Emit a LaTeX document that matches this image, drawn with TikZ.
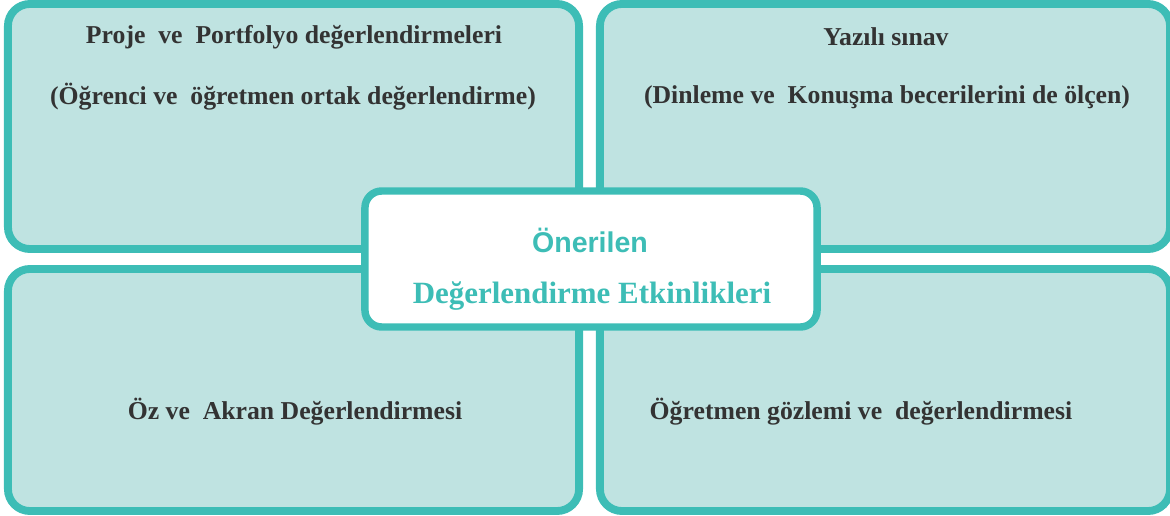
\documentclass[tikz,border=0pt]{standalone}
\usepackage{fontspec}
\setmainfont{Liberation Serif}
\newfontfamily\headsans{Liberation Sans}
\usepackage{tikz}

\definecolor{tealline}{HTML}{3DBDB6}
\definecolor{tealfill}{HTML}{BFE3E1}
\definecolor{darktext}{HTML}{333333}

\begin{document}
\begin{tikzpicture}[x=0.025cm, y=0.025cm,
    panel/.style={draw=tealline, fill=tealfill, line width=5.6pt,
      rounded corners=0.55cm, inner sep=0pt},
    hub/.style={draw=tealline, fill=white, line width=5.3pt,
      rounded corners=0.42cm, inner sep=0pt,
      minimum width=11.3cm, minimum height=3.4cm},
    lbl/.style={text=darktext, font=\bfseries\fontsize{18.3}{21}\selectfont},
    hubtxt/.style={text=tealline, font=\bfseries\fontsize{22}{26}\selectfont}]
    \useasboundingbox (0,0) rectangle (1170,515);
    % four panels
    \node[panel, minimum width=14.275cm, minimum height=6.125cm] (proj) at (293.5,388.5) {};
    \node[panel, minimum width=14.25cm, minimum height=6.125cm] (exam) at (885,388.5) {};
    \node[panel, minimum width=14.275cm, minimum height=6.05cm] (peer) at (293.5,125) {};
    \node[panel, minimum width=14.25cm, minimum height=6.05cm] (obs) at (885,125) {};
    % texts of the panels
    \node[lbl] (proja) at (294,478) {Proje\ \ ve\ \ Portfolyo değerlendirmeleri};
    \node[lbl] (projb) at (293,418) {(Öğrenci ve\ \ öğretmen ortak değerlendirme)};
    \node[lbl] (exama) at (886,478) {Yazılı sınav};
    \node[lbl] (examb) at (887,418) {(Dinleme ve\ \ Konuşma becerilerini de ölçen)};
    \node[lbl] (peera) at (295,103) {Öz ve\ \ Akran Değerlendirmesi};
    \node[lbl] (obsa) at (861,103) {Öğretmen gözlemi ve\ \ değerlendirmesi};
    % centre
    \node[hub] (hub) at (591,256) {};
    \node[hubtxt, font=\headsans\bfseries\fontsize{20.3}{24}\selectfont] (huba) at (590,275) {Önerilen};
    \node[hubtxt] (hubb) at (592,219) {Değerlendirme Etkinlikleri};
  \end{tikzpicture}
\end{document}
